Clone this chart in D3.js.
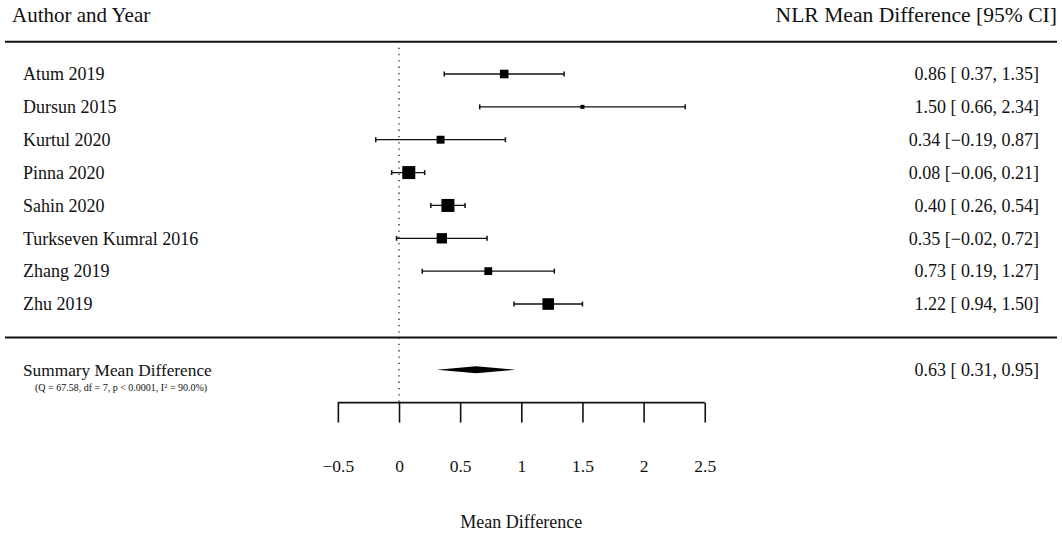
<!DOCTYPE html>
<html>
<head>
<meta charset="utf-8">
<script src="https://cdn.jsdelivr.net/npm/d3@7"></script>
<style>
  body { margin: 0; background: white; }
  svg text { font-family: "Liberation Serif", "DejaVu Serif", serif; fill: #111; }
</style>
</head>
<body>
<script>
// study data
const studies = ["Atum 2019", "Dursun 2015", "Kurtul 2020", "Pinna 2020", "Sahin 2020", "Turkseven Kumral 2016", "Zhang 2019", "Zhu 2019"];
const estimates = [0.86, 1.50, 0.34, 0.08, 0.40, 0.35, 0.73, 1.22];
const lowers = [0.37, 0.66, -0.19, -0.06, 0.26, -0.02, 0.19, 0.94];
const uppers = [1.35, 2.34, 0.87, 0.21, 0.54, 0.72, 1.27, 1.50];
const weights = [11.7, 7.7, 11.1, 15.5, 15.5, 13.2, 11.0, 14.3]; // approx. RE weights (%)

const summary = { label: "Summary Mean Difference", est: 0.63, lo: 0.31, hi: 0.95 };
const hetText = "(Q = 67.58, df = 7, p < 0.0001, I";
const hetTail = " = 90.0%)";

const xTicks = [-0.5, 0, 0.5, 1, 1.5, 2, 2.5];

const W = 1062, H = 537;
const svg = d3.select("body").append("svg")
    .attr("width", W)
    .attr("height", H);

const x = d3.scaleLinear().domain([0, 1]).range([399, 521.3]);
const y = d3.scaleLinear().domain([0, 1]).range([74, 106.86]); // row index -> pixel
const box = d3.scaleLinear().domain(d3.extent(weights)).range([4, 13]);

const fmt = v => (v < 0 ? "\u2212" : " ") + Math.abs(v).toFixed(2);

// headers
svg.append("text").attr("x", 12).attr("y", y(-1.8)).attr("dy", "0.35em")
    .style("font-size", "21px").text("Author and Year");
svg.append("text").attr("x", 1057).attr("y", y(-1.8)).attr("dy", "0.35em")
    .attr("text-anchor", "end").style("font-size", "21.6px").text("NLR Mean Difference [95% CI]");

// horizontal rules
[-1, 8].forEach(r => {
  svg.append("line").attr("x1", 5).attr("x2", 1057)
      .attr("y1", y(r) + 0.5).attr("y2", y(r) + 0.5)
      .attr("stroke", "#111").attr("stroke-width", 2);
});

// reference line at 0
svg.append("line").attr("x1", x(0)).attr("x2", x(0))
    .attr("y1", y(-0.8)).attr("y2", y(10))
    .attr("stroke", "#222").attr("stroke-width", 1.3)
    .attr("stroke-dasharray", "1.3,5");

// study rows
const rows = svg.selectAll(".study").data(studies).enter().append("g").attr("class", "study");

rows.append("text").attr("x", 23).attr("y", (d, i) => y(i)).attr("dy", "0.35em")
    .style("font-size", "18px").text(d => d);

rows.append("text").attr("x", 1039).attr("y", (d, i) => y(i)).attr("dy", "0.35em")
    .attr("text-anchor", "end").style("font-size", "18px")
    .text((d, i) => estimates[i].toFixed(2) + " [" + fmt(lowers[i]) + ", " + uppers[i].toFixed(2) + "]");

rows.append("line")
    .attr("x1", (d, i) => x(lowers[i])).attr("x2", (d, i) => x(uppers[i]))
    .attr("y1", (d, i) => y(i)).attr("y2", (d, i) => y(i))
    .attr("stroke", "#111").attr("stroke-width", 1.3);

[lowers, uppers].forEach(arr => {
  rows.append("line")
      .attr("x1", (d, i) => x(arr[i])).attr("x2", (d, i) => x(arr[i]))
      .attr("y1", (d, i) => y(i) - 2.5).attr("y2", (d, i) => y(i) + 2.5)
      .attr("stroke", "#111").attr("stroke-width", 1.5);
});

rows.append("rect")
    .attr("x", (d, i) => x(estimates[i]) - box(weights[i]) / 2)
    .attr("y", (d, i) => y(i) - box(weights[i]) / 2)
    .attr("width", (d, i) => box(weights[i]))
    .attr("height", (d, i) => box(weights[i]))
    .attr("fill", "#000");

// summary row
const sy = y(9);
svg.append("text").attr("x", 23).attr("y", sy).attr("dy", "0.35em")
    .style("font-size", "17.3px").text(summary.label);
const het = svg.append("text").attr("x", 35).attr("y", sy + 18).attr("dy", "0.35em")
    .style("font-size", "10px");
het.append("tspan").text(hetText);
het.append("tspan").attr("dy", "-3").style("font-size", "6.5px").text("2");
het.append("tspan").attr("dy", "3").text(hetTail);

svg.append("text").attr("x", 1039).attr("y", sy).attr("dy", "0.35em")
    .attr("text-anchor", "end").style("font-size", "18px")
    .text(summary.est.toFixed(2) + " [" + fmt(summary.lo) + ", " + summary.hi.toFixed(2) + "]");

svg.append("polygon")
    .attr("points", [
      [x(summary.lo), sy], [x(summary.est), sy - 3.6],
      [x(summary.hi), sy], [x(summary.est), sy + 3.6]
    ].map(p => p.join(",")).join(" "))
    .attr("fill", "#000");

// x axis
const axisY = y(10);
const axis = svg.append("g").attr("transform", `translate(0,${axisY})`)
    .call(d3.axisBottom(x).tickValues(xTicks).tickSize(20).tickPadding(0)
      .tickFormat(d => d < 0 ? "\u2212" + Math.abs(d) : String(d)));
axis.select(".domain").attr("d", `M${x(-0.5)},0H${x(2.5)}`).attr("stroke", "#111").attr("stroke-width", 1.6);
axis.selectAll(".tick line").attr("stroke", "#111").attr("stroke-width", 1.6);
axis.selectAll(".tick text")
    .attr("y", 63).attr("dy", "0.35em")
    .style("font-family", "'Liberation Serif', serif")
    .style("font-size", "17.5px").attr("fill", "#111");

svg.append("text").attr("x", x(1)).attr("y", 522).attr("dy", "0.35em")
    .attr("text-anchor", "middle").style("font-size", "18px").text("Mean Difference");
</script>
</body>
</html>
